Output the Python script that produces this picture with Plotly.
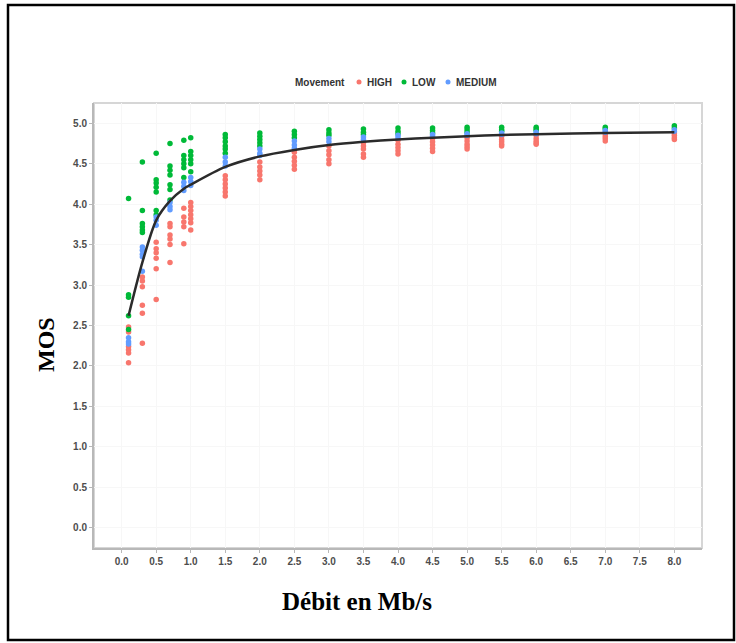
import plotly.graph_objects as go

# Bit-rate levels (Mb/s)
x_levels = [0.1, 0.3, 0.5, 0.7, 0.9, 1.0, 1.5, 2.0, 2.5, 3.0, 3.5, 4.0, 4.5, 5.0, 5.5, 6.0, 7.0, 8.0]

high_mos = [
    [2.48, 2.42, 2.24, 2.20, 2.16, 2.04],
    [3.10, 3.05, 2.98, 2.75, 2.65, 2.28],
    [3.53, 3.45, 3.40, 3.33, 3.20, 2.82],
    [3.76, 3.72, 3.62, 3.57, 3.50, 3.28],
    [3.95, 3.84, 3.78, 3.72, 3.51],
    [4.02, 3.97, 3.92, 3.87, 3.82, 3.77, 3.68],
    [4.35, 4.30, 4.25, 4.20, 4.15, 4.10],
    [4.52, 4.46, 4.41, 4.36, 4.30],
    [4.64, 4.58, 4.53, 4.48, 4.43],
    [4.72, 4.66, 4.61, 4.55, 4.50],
    [4.76, 4.72, 4.68, 4.62, 4.58],
    [4.79, 4.74, 4.70, 4.66, 4.62],
    [4.81, 4.77, 4.73, 4.69, 4.65],
    [4.82, 4.78, 4.74, 4.71, 4.68],
    [4.84, 4.80, 4.77, 4.74, 4.72],
    [4.85, 4.81, 4.78, 4.76, 4.74],
    [4.87, 4.84, 4.81, 4.78],
    [4.88, 4.85, 4.82, 4.80],
]
low_mos = [
    [4.07, 2.88, 2.85, 2.62, 2.45],
    [4.52, 3.92, 3.76, 3.72, 3.68, 3.65],
    [4.63, 4.30, 4.26, 4.21, 4.15, 3.92, 3.87],
    [4.75, 4.47, 4.42, 4.36, 4.24, 4.18, 4.05],
    [4.79, 4.60, 4.55, 4.50, 4.45, 4.33],
    [4.82, 4.65, 4.60, 4.55, 4.50, 4.40],
    [4.86, 4.82, 4.77, 4.72, 4.68, 4.63],
    [4.88, 4.84, 4.80, 4.76, 4.72],
    [4.90, 4.86, 4.82],
    [4.92, 4.88, 4.85],
    [4.93, 4.89, 4.86],
    [4.94, 4.90, 4.87],
    [4.94, 4.91, 4.88],
    [4.95, 4.92, 4.89],
    [4.95, 4.92, 4.90],
    [4.95, 4.93, 4.91],
    [4.95, 4.93],
    [4.97, 4.94],
]
medium_mos = [
    [2.35, 2.30, 2.27],
    [3.47, 3.43, 3.38, 3.35, 3.17],
    [3.84, 3.80, 3.74],
    [4.02, 3.97, 3.93],
    [4.27, 4.22, 4.17],
    [4.33, 4.28, 4.23],
    [4.58, 4.52, 4.47],
    [4.68, 4.63, 4.60],
    [4.78, 4.73, 4.69],
    [4.81, 4.77],
    [4.83, 4.80],
    [4.85, 4.82],
    [4.86, 4.84],
    [4.87, 4.85],
    [4.88, 4.86],
    [4.89, 4.87],
    [4.91, 4.89],
    [4.92, 4.90],
]
fit_mos = [2.62, 3.28, 3.80, 4.04, 4.19, 4.24, 4.46, 4.59, 4.67, 4.73, 4.77, 4.80, 4.82, 4.84, 4.855, 4.865, 4.88, 4.89]

x_tick_vals = [i * 0.5 for i in range(17)]
y_tick_vals = [i * 0.5 for i in range(11)]

legend_title = "Movement"
series = [("HIGH", high_mos, "#F8766D"), ("LOW", low_mos, "#00BA38"), ("MEDIUM", medium_mos, "#619CFF")]


def flatten(levels, groups):
    xs, ys = [], []
    for xv, grp in zip(levels, groups):
        for v in grp:
            xs.append(xv)
            ys.append(v)
    return xs, ys


fig = go.Figure()
for name, groups, color in series:
    xs, ys = flatten(x_levels, groups)
    fig.add_trace(go.Scatter(x=xs, y=ys, mode="markers", name=name, showlegend=False,
                             marker=dict(color=color, size=5.5, line=dict(width=0))))

fig.add_trace(go.Scatter(x=x_levels, y=fit_mos, mode="lines", showlegend=False,
                         line=dict(color="#2b2b2b", width=2.5, shape="spline", smoothing=0.8)))

L, R, T, B = 94, 34, 103, 95
W, H = 736, 643
pw, ph = W - L - R, H - T - B


def px(xp):
    return (xp - L) / pw


def py(yp):
    return (H - B - yp) / ph


axis_common = dict(
    showline=True, linecolor="#b8b8b8", linewidth=2,
    ticks="outside", ticklen=3, tickcolor="#b8b8b8", tickwidth=1,
    showgrid=True, gridcolor="#f7f7f7", gridwidth=1,
    zeroline=False,
    tickfont=dict(family="Liberation Sans, Arial", size=10, color="#4d4d4d", weight="bold"),
)

fig.update_xaxes(range=[-0.4, 8.4], tickvals=x_tick_vals,
                 ticktext=[f"{v:.1f}" for v in x_tick_vals], **axis_common)
fig.update_yaxes(range=[-0.25, 5.25], tickvals=y_tick_vals,
                 ticktext=[f"{v:.1f}" for v in y_tick_vals], **axis_common)

shapes = [
    dict(type="rect", xref="paper", yref="paper", x0=0, x1=1, y0=0, y1=1,
         line=dict(color="#d6d6d6", width=2), layer="below"),
    dict(type="rect", xref="paper", yref="paper",
         x0=px(8), x1=px(734), y0=py(640), y1=py(5),
         line=dict(color="black", width=2.5)),
]

legend_font = dict(family="Liberation Sans, Arial", size=10, color="#333", weight="bold")
annotations = [
    dict(text="<b>Débit en Mb/s</b>", xref="paper", yref="paper",
         x=px(357), y=py(601), showarrow=False, xanchor="center", yanchor="middle",
         font=dict(family="Liberation Serif, Times New Roman", size=25, color="black")),
    dict(text="<b>MOS</b>", xref="paper", yref="paper",
         x=px(46), y=py(345), showarrow=False, textangle=-90,
         xanchor="center", yanchor="middle",
         font=dict(family="Liberation Serif, Times New Roman", size=24, color="black")),
    dict(text=legend_title, xref="paper", yref="paper", x=px(293), y=py(82),
         showarrow=False, xanchor="left", yanchor="middle", font=legend_font),
]

# hand-built legend (compact, like the reference)
sym_x = [359, 404, 448]
for (name, _, color), sx in zip(series, sym_x):
    shapes.append(dict(type="circle", xref="paper", yref="paper",
                       x0=px(sx - 2.5), x1=px(sx + 2.5), y0=py(84.5), y1=py(79.5),
                       fillcolor=color, line=dict(width=0)))
    annotations.append(dict(text=name, xref="paper", yref="paper", x=px(sx + 6), y=py(82),
                            showarrow=False, xanchor="left", yanchor="middle", font=legend_font))

fig.update_layout(
    width=W, height=H,
    margin=dict(l=L, r=R, t=T, b=B),
    paper_bgcolor="white", plot_bgcolor="white",
    shapes=shapes, annotations=annotations,
    showlegend=False,
)

fig.write_html("out.html")
